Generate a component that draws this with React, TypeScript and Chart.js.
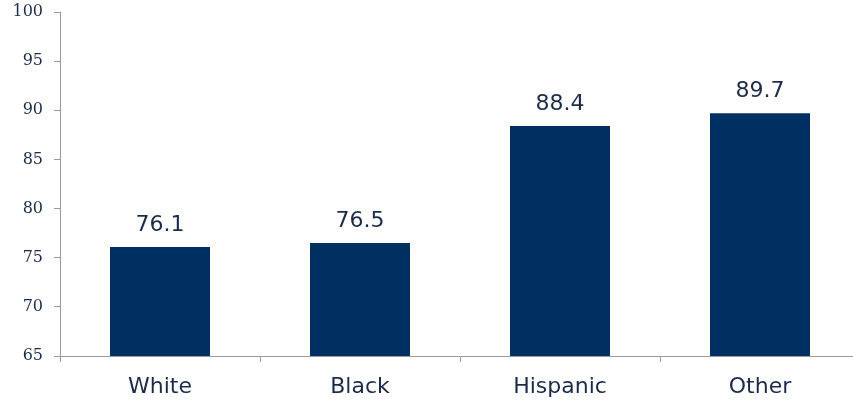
import React, { useEffect, useRef } from "react";
import { Chart, registerables } from "chart.js";

Chart.register(...registerables);

const categories = ["White", "Black", "Hispanic", "Other"];
const values = [76.1, 76.5, 88.4, 89.7];
const yMin = 65;
const yMax = 100;
const yStep = 5;

const barColor = "#002f61";
const textColor = "#1c2c48";
const axisColor = "#9a9a9a";

const valueLabels = {
  id: "valueLabels",
  afterDatasetsDraw(chart: any) {
    const ctx = chart.ctx;
    const meta = chart.getDatasetMeta(0);
    ctx.save();
    ctx.font = "22px 'DejaVu Sans'";
    ctx.fillStyle = textColor;
    ctx.textAlign = "center";
    ctx.textBaseline = "bottom";
    meta.data.forEach((el: any, i: number) => {
      ctx.fillText(values[i].toFixed(1), el.x, el.y - 11);
    });
    ctx.restore();
  },
};

export default function App() {
  const ref = useRef<HTMLCanvasElement>(null);
  useEffect(() => {
    if (!ref.current) return;
    const chart = new Chart(ref.current, {
      type: "bar",
      data: {
        labels: categories,
        datasets: [
          {
            data: values,
            backgroundColor: barColor,
            borderWidth: 0,
            categoryPercentage: 1,
            barPercentage: 0.5,
          },
        ],
      },
      options: {
        responsive: false,
        animation: false,
        layout: { padding: { top: 12, right: 10, left: 0, bottom: 0 } },
        plugins: { legend: { display: false }, tooltip: { enabled: false } },
        scales: {
          x: {
            grid: {
              display: true,
              offset: true,
              drawOnChartArea: false,
              drawTicks: true,
              tickLength: 6,
              color: axisColor,
            },
            border: { display: true, color: axisColor, width: 1 },
            ticks: {
              color: textColor,
              font: { family: "'DejaVu Sans'", size: 22 },
              padding: 12,
            },
            afterFit(scale: any) {
              scale.height = 48;
              scale.paddingLeft = 0;
              scale.paddingRight = 0;
            },
          },
          y: {
            min: yMin,
            max: yMax,
            grid: {
              display: true,
              drawOnChartArea: false,
              drawTicks: true,
              tickLength: 6,
              color: axisColor,
            },
            border: { display: true, color: axisColor, width: 1 },
            ticks: {
              stepSize: yStep,
              color: textColor,
              font: { family: "'DejaVu Serif'", size: 16 },
              padding: 11,
            },
            afterFit(scale: any) {
              scale.width = 60;
              scale.paddingTop = 0;
              scale.paddingBottom = 0;
            },
          },
        },
      },
      plugins: [valueLabels],
    });
    return () => chart.destroy();
  }, []);
  return (
    <div
      style={{
        position: "fixed",
        left: 0,
        top: 0,
        width: 853,
        height: 404,
        overflow: "hidden",
        background: "#fff",
      }}
    >
      <canvas ref={ref} width={870} height={404} style={{ display: "block" }} />
    </div>
  );
}
